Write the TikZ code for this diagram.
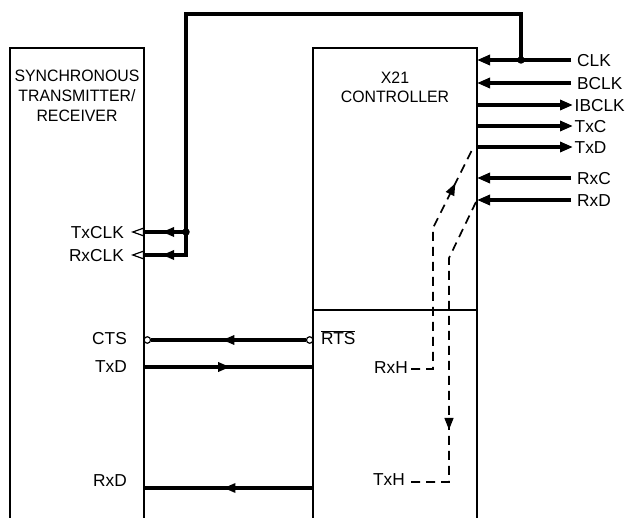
\documentclass[tikz,border=0pt]{standalone}
\usepackage{fontspec}
\setmainfont{Liberation Sans}
\newfontfamily\titlefont[FakeStretch=0.96]{Liberation Sans}
\usetikzlibrary{arrows.meta,decorations.markings}
\tikzset{
  box/.style={line width=1.5pt},
  wire/.style={line width=3.2pt, line join=miter},
  dashwire/.style={line width=1.7pt, dash pattern=on 9pt off 6pt},
  inarr/.style={-{Triangle[length=13pt,width=10pt]}},
  opentri/.style={line width=1.2pt, -{Triangle[open,length=13pt,width=9pt,line width=1.2pt]}},
  midarr/.style={postaction={decorate,decoration={markings,mark=at position #1 with {\arrow[solid]{Triangle[length=12pt,width=9pt]}}}}},
  lbl/.style={font=\fontsize{17.3}{20}\selectfont, inner sep=0pt, text height=12.4pt, text depth=0pt},
  lblm/.style={font=\titlefont\fontsize{16.5}{20}\selectfont, inner sep=0pt, align=center},
  dot/.style={circle, fill, inner sep=0pt, minimum size=7.5pt},
  bubble/.style={circle, draw, fill=white, inner sep=0pt, minimum size=6.5pt, line width=1.2pt},
}
\begin{document}
\begin{tikzpicture}[x=1pt, y=-1pt]
\useasboundingbox (0,0) rectangle (633,518);
% boxes
\draw[box] (10,520) -- (10,48) -- (144,48) -- (144,520);
\draw[box] (313,520) -- (313,48) -- (477,48) -- (477,520);
\draw[box] (313,310) -- (477,310);
\node[lblm, anchor=north] (str) at (77,70) {SYNCHRONOUS\\TRANSMITTER/\\RECEIVER};
\node[lblm, anchor=north, font=\titlefont\fontsize{16.5}{19}\selectfont] (x21) at (395,72) {X21\\CONTROLLER};

% right side signals
\coordinate (eCLK) at (571,60);   \coordinate (pCLK) at (477,60);
\coordinate (eBCLK) at (571,83);  \coordinate (pBCLK) at (477,83);
\coordinate (eIB) at (573,105);   \coordinate (pIB) at (477,105);
\coordinate (eTxC) at (573,126);  \coordinate (pTxC) at (477,126);
\coordinate (eTxD) at (573,147);  \coordinate (pTxD) at (477,147);
\coordinate (eRxC) at (571,178);  \coordinate (pRxC) at (477,178);
\coordinate (eRxD) at (571,200);  \coordinate (pRxD) at (477,200);
\node[lbl, anchor=west] (lCLK) at (577,60) {CLK};
\node[lbl, anchor=west] (lBCLK) at (577,83) {BCLK};
\node[lbl, anchor=west] (lIB) at (574.5,105) {IBCLK};
\node[lbl, anchor=west] (lTxC) at (574.5,126) {TxC};
\node[lbl, anchor=west] (lTxD) at (574.5,147) {TxD};
\node[lbl, anchor=west] (lRxC) at (577,178) {RxC};
\node[lbl, anchor=west] (lRxD) at (577,200) {RxD};
\draw[wire, inarr] (eCLK) -- (pCLK);
\draw[wire, inarr] (eBCLK) -- (pBCLK);
\draw[wire, inarr] (pIB) -- (eIB);
\draw[wire, inarr] (pTxC) -- (eTxC);
\draw[wire, inarr] (pTxD) -- (eTxD);
\draw[wire, inarr] (eRxC) -- (pRxC);
\draw[wire, inarr] (eRxD) -- (pRxD);

% clock feed
\node[dot] (dCLK) at (521,60) {};
\node[dot] (dTx) at (186,232) {};
\coordinate (pTxCLK) at (144,232); \coordinate (tTxCLK) at (131,232);
\coordinate (pRxCLK) at (144,255); \coordinate (tRxCLK) at (131,255);
\coordinate (cA) at (521,14); \coordinate (cB) at (186,14); \coordinate (cC) at (186,255);
\draw[wire, midarr=646pt] (dCLK.center) -- (cA) -- (cB) -- (cC) -- (pRxCLK);
\draw[wire, midarr=24pt] (dTx.center) -- (pTxCLK);
\draw[opentri] (pTxCLK) -- (tTxCLK);
\draw[opentri] (pRxCLK) -- (tRxCLK);
\node[lbl, anchor=east] (lTxCLK) at (124,232.5) {TxCLK};
\node[lbl, anchor=east] (lRxCLK) at (124,255) {RxCLK};

% CTS / RTS
\node[bubble] (bC) at (147.3,340) {};
\node[bubble] (bR) at (309.7,340) {};
\draw[wire, midarr=0.54] (bR) -- (bC);
\node[lbl, anchor=east] (lCTS) at (127,338.5) {CTS};
\node[lbl, anchor=west] (lRTS) at (321,338) {$\overline{\mbox{RTS}}$};

% TxD / RxD
\coordinate (lTxDp) at (144,367); \coordinate (rTxDp) at (313,367);
\coordinate (lRxDp) at (144,488); \coordinate (rRxDp) at (313,488);
\draw[wire, midarr=0.51] (lTxDp) -- (rTxDp);
\draw[wire, midarr=0.53] (rRxDp) -- (lRxDp);
\node[lbl, anchor=east] (lTxDl) at (127,366.5) {TxD};
\node[lbl, anchor=east] (lRxDl) at (127,480) {RxD};

% loopback paths
\node[lbl, anchor=east] (lRxH) at (408,367) {RxH};
\node[lbl, anchor=east] (lTxH) at (405,479) {TxH};
\coordinate (hR) at (411,369); \coordinate (hR1) at (433,369); \coordinate (hR2) at (433,228); \coordinate (hR3) at (474,146);
\draw[dashwire, midarr=213pt] (hR) -- (hR1) -- (hR2) -- (hR3);
\coordinate (hT0) at (476,202); \coordinate (hT1) at (449,258); \coordinate (hT2) at (449,482); \coordinate (hT) at (411,482);
\draw[dashwire, midarr=234pt] (hT0) -- (hT1) -- (hT2) -- (hT);
\end{tikzpicture}
\end{document}
